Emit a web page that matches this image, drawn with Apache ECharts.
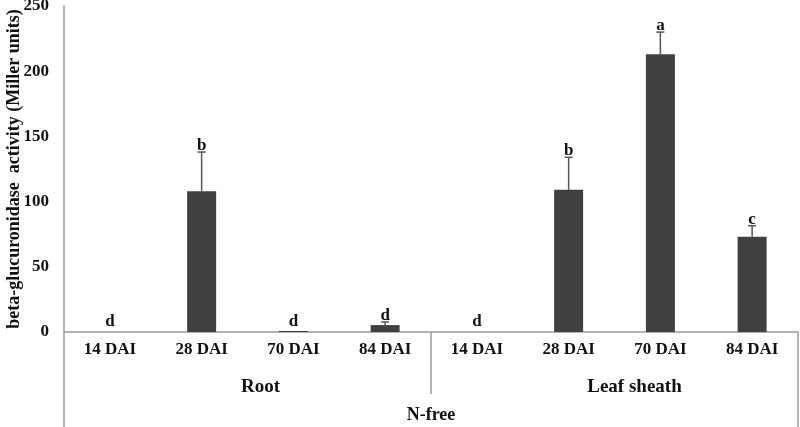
<!DOCTYPE html>
<html>
<head>
<meta charset="utf-8">
<script src="https://cdn.jsdelivr.net/npm/echarts@6/dist/echarts.min.js"></script>
<style>html,body{margin:0;padding:0;background:#fff}#c{width:800px;height:427px}</style>
</head>
<body>
<div id="c"></div>
<script>
var categories = ['14 DAI','28 DAI','70 DAI','84 DAI','14 DAI','28 DAI','70 DAI','84 DAI'];
var values = [0, 108, 0.8, 5.3, 0, 109, 213, 73];
var errors = [0, 30, 0, 2.4, 0, 25, 17, 8.5];
var letters = ['d','b','d','d','d','b','a','c'];
var tissues = ['Root','Leaf sheath'];
var treatment = ['N-free'];
var yTicks = {min: 0, max: 250, interval: 50};

var FONT = '"Liberation Serif", "Times New Roman", serif';
var TXT = '#111';
var AX = '#9a9a9a';

var chart = echarts.init(document.getElementById('c'), null, {renderer: 'canvas'});
var errData = values.map(function (v, i) { return [i, v, errors[i], letters[i]]; });
var tissueStyle = {fontFamily: FONT, fontWeight: 'bold', fontSize: 19, color: TXT};

chart.setOption({
  animation: false,
  backgroundColor: '#fff',
  grid: {left: 64, right: 2, top: 6, bottom: 95, containLabel: false, outerBoundsMode: 'none'},
  xAxis: [
    {
      type: 'category', data: categories, position: 'bottom',
      axisLine: {show: true, lineStyle: {color: AX, width: 1.5}},
      axisTick: {show: false},
      axisLabel: {margin: 9, fontFamily: FONT, fontWeight: 'bold', fontSize: 17, color: TXT, interval: 0}
    },
    {
      type: 'category', data: tissues, position: 'bottom',
      axisLine: {show: false},
      axisTick: {show: true, length: 62, lineStyle: {color: AX, width: 1.5}},
      axisLabel: {
        margin: 46, interval: 0,
        formatter: function (v, i) { return '{t' + i + '|' + v + '}'; },
        rich: {
          t0: Object.assign({padding: [0, 0, 0, 26]}, tissueStyle),
          t1: Object.assign({padding: [0, 0, 0, 40]}, tissueStyle)
        }
      }
    },
    {
      type: 'category', data: treatment, position: 'bottom',
      axisLine: {show: false},
      axisTick: {show: true, length: 96, lineStyle: {color: AX, width: 1.5}},
      axisLabel: {margin: 74, fontFamily: FONT, fontWeight: 'bold', fontSize: 18, color: TXT}
    }
  ],
  yAxis: {
    type: 'value', min: yTicks.min, max: yTicks.max, interval: yTicks.interval,
    name: 'beta-glucuronidase  activity (Miller units)',
    nameLocation: 'middle', nameGap: 41, nameMoveOverlap: false,
    nameTextStyle: {fontFamily: FONT, fontWeight: 'bold', fontSize: 18, color: TXT},
    axisLine: {show: true, lineStyle: {color: AX, width: 1.5}},
    axisTick: {show: false},
    splitLine: {show: false},
    axisLabel: {margin: 15, fontFamily: FONT, fontWeight: 'bold', fontSize: 17, color: TXT}
  },
  series: [
    {
      type: 'bar', xAxisIndex: 0, data: values, barWidth: 29,
      itemStyle: {color: '#404040'}
    },
    {
      type: 'custom', xAxisIndex: 0, data: errData, z: 5,
      renderItem: function (params, api) {
        var i = api.value(0), v = api.value(1), e = api.value(2);
        var base = api.coord([i, v]);
        var top = api.coord([i, v + e]);
        var zero = api.coord([i, 0]);
        var children = [];
        if (e > 0) {
          children.push({type: 'line', shape: {x1: base[0], y1: base[1], x2: top[0], y2: top[1]}, style: {stroke: '#555', lineWidth: 1.5}});
          children.push({type: 'line', shape: {x1: top[0] - 4, y1: top[1], x2: top[0] + 4, y2: top[1]}, style: {stroke: '#555', lineWidth: 1.5}});
        }
        var ty = Math.min(top[1], zero[1] - 4) + 2;
        children.push({type: 'text', style: {text: letters[params.dataIndex], x: top[0], y: ty, align: 'center', verticalAlign: 'bottom', font: 'bold 17px ' + FONT, fill: TXT}});
        return {type: 'group', children: children};
      }
    }
  ]
});
</script>
</body>
</html>
